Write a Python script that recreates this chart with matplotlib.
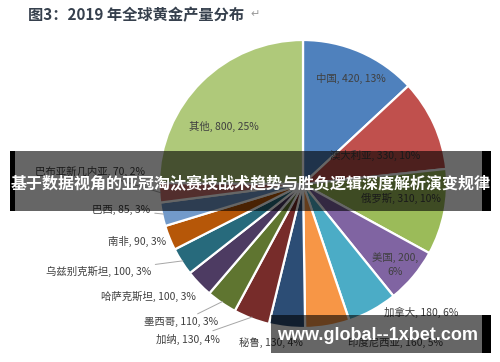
import matplotlib
matplotlib.use("Agg")
import matplotlib.pyplot as plt
from matplotlib.patches import Rectangle
import numpy as np

plt.rcParams['font.family'] = ['Noto Sans CJK SC', 'DejaVu Sans']

# data (tonnes, 2019)
countries = ['中国', '澳大利亚', '俄罗斯', '美国', '加拿大', '印度尼西亚', '秘鲁', '加纳',
             '墨西哥', '哈萨克斯坦', '乌兹别克斯坦', '南非', '巴西', '巴布亚新几内亚', '其他']
output = [420, 330, 310, 200, 180, 160, 130, 130, 110, 100, 100, 90, 85, 70, 800]
shares = [13, 10, 10, 6, 6, 5, 4, 4, 3, 3, 3, 3, 3, 2, 25]

colors = ['#4F81BD', '#C0504D', '#9BBB59', '#8064A2', '#4BACC6', '#F79646',
          '#2C4D75', '#772C2A', '#5F7530', '#4D3B62', '#276A7C', '#B65708',
          '#729ACA', '#CD7371', '#AFC97A']

# label layout (in pie radius units) and which labels get a leader line
label_pos = [(0.33, 0.73), (0.50, 0.20), (0.68, -0.10), (0.64, -0.56), (0.82, -0.89),
             (0.64, -1.10), (-0.22, -1.10), (-0.80, -1.08), (-0.85, -0.96), (-1.07, -0.78),
             (-1.42, -0.61), (-1.15, -0.40), (-1.26, -0.18), (-1.48, 0.09), (-0.55, 0.40)]
leader = [False, False, False, False, False, False, False, True, True, False,
          True, False, True, True, False]

W, H = 500, 362
fig = plt.figure(figsize=(W / 100, H / 100), dpi=100)
fig.patch.set_facecolor('white')


def fx(px):
    return px / W


def fy(py):
    return 1 - py / H


# pie centre ~ (303, 184) px, radius ~ 144 px
cx, cy, r = 303, 184, 144
ax = fig.add_axes([fx(cx - r), fy(cy + r), 2 * r / W, 2 * r / H])
wedges, _ = ax.pie(output, colors=colors, startangle=90, counterclock=False,
                   radius=1, wedgeprops=dict(edgecolor='white', linewidth=1.6))
ax.set_xlim(-1, 1)
ax.set_ylim(-1, 1)
ax.set_aspect('equal')
ax.axis('off')

txt_color = '#404040'
for i, w in enumerate(wedges):
    if countries[i] == '美国':
        lab = '%s, %d,\n%d%%' % (countries[i], output[i], shares[i])
    else:
        lab = '%s, %d, %d%%' % (countries[i], output[i], shares[i])
    mid = np.deg2rad((w.theta1 + w.theta2) / 2)
    edge = (0.99 * np.cos(mid), 0.99 * np.sin(mid))
    if leader[i]:
        ax.annotate(lab, xy=edge, xytext=label_pos[i], ha='center', va='center',
                    fontsize=7.5, color=txt_color, annotation_clip=False,
                    arrowprops=dict(arrowstyle='-', color='#a6a6a6', lw=0.7,
                                    shrinkA=1, shrinkB=0))
    else:
        ax.text(label_pos[i][0], label_pos[i][1], lab, ha='center', va='center',
                fontsize=7.5, color=txt_color, linespacing=1.5, clip_on=False)

# title
fig.text(fx(28), fy(15), '图3：2019 年全球黄金产量分布', fontsize=11, fontweight='bold',
         color='#36404d', ha='left', va='center')
fig.text(fx(250), fy(14), '↵', fontsize=8, color='#9a9a9a', ha='left', va='center')

# overlay banner
fig.patches.append(Rectangle((fx(15), fy(211)), fx(482 - 15), (211 - 151) / H,
                             transform=fig.transFigure, facecolor='black', alpha=0.6,
                             edgecolor='none', zorder=5))
fig.patches.append(Rectangle((fx(10), fy(211)), fx(5), (211 - 151) / H,
                             transform=fig.transFigure, facecolor='black',
                             edgecolor='none', zorder=5))
fig.patches.append(Rectangle((fx(482), fy(211)), fx(9), (211 - 151) / H,
                             transform=fig.transFigure, facecolor='black',
                             edgecolor='none', zorder=5))
fig.text(fx(251), fy(183), '基于数据视角的亚冠淘汰赛技战术趋势与胜负逻辑深度解析演变规律',
         fontsize=11.5, fontweight='bold', color='white', ha='center', va='center', zorder=6)

# watermark box
fig.patches.append(Rectangle((fx(271), fy(353)), fx(482 - 271), (353 - 315) / H,
                             transform=fig.transFigure, facecolor='black', alpha=0.6,
                             edgecolor='none', zorder=5))
fig.patches.append(Rectangle((fx(482), fy(353)), fx(9), (353 - 315) / H,
                             transform=fig.transFigure, facecolor='black',
                             edgecolor='none', zorder=5))
fig.text(fx(378), fy(336), 'www.global--1xbet.com', fontsize=13, fontweight='bold',
         color='white', ha='center', va='center', family=['Liberation Sans'], zorder=6)

fig.savefig('out.png', dpi=100)
